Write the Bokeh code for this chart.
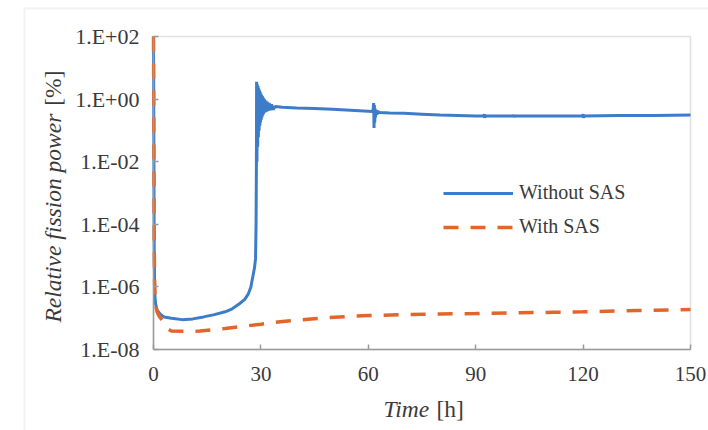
import numpy as np
from bokeh.plotting import figure
from bokeh.models import (Range1d, FixedTicker, CustomJSTickFormatter, Legend,
                          LegendItem, Label, BoxAnnotation, ColumnDataSource)
from bokeh.embed import file_html
from bokeh.resources import INLINE

# ---------------- data ----------------
time_without = [0, 0.05, 0.1, 0.15, 0.2, 0.3, 0.4, 0.6, 1.0, 2.0, 3.0, 5.0, 8.0,
                11.0, 14.0, 17.0, 20.0, 22.0, 24.0, 25.5, 26.5, 27.2, 27.7, 28.2,
                28.5, 28.65, 28.75,
                28.8, 28.9, 29.0, 29.1, 29.2, 29.3, 29.4, 29.5, 29.6, 29.7, 29.8,
                29.9, 30.0, 30.1, 30.2, 30.3, 30.4, 30.5, 30.6, 30.7, 30.8, 30.9,
                31.0, 31.2, 31.4, 31.6, 31.8, 32.0, 32.3, 32.6, 33.0, 33.4,
                34.0, 36.0, 40.0, 45.0, 50.0, 55.0, 60.0, 61.3, 61.5, 61.6, 61.7,
                61.8, 61.9, 62.0, 62.2, 62.4, 62.7, 63.2, 66.0, 70.0, 75.0, 80.0,
                85.0, 90.0, 92.3, 92.4, 92.5, 92.6, 100.5, 100.6, 100.7, 100.8,
                110.0, 119.9, 120.0, 120.1, 120.2, 130.0, 140.0, 150.0]
power_without = [100, 5, 0.05, 5e-4, 2e-5, 1.5e-6, 5e-7, 2.8e-7, 1.8e-7, 1.3e-7,
                 1.1e-7, 1.0e-7, 9e-8, 9.5e-8, 1.1e-7, 1.3e-7, 1.6e-7, 2.0e-7,
                 2.9e-7, 4e-7, 6e-7, 1e-6, 2e-6, 4e-6, 8e-6, 1e-4, 0.01,
                 3.6, 0.01, 3.0, 0.03, 2.6, 0.06, 2.2, 0.1, 1.9, 0.14, 1.7,
                 0.18, 1.5, 0.22, 1.35, 0.26, 1.25, 0.3, 1.15, 0.33, 1.05, 0.36,
                 0.98, 0.38, 0.9, 0.4, 0.82, 0.42, 0.75, 0.44, 0.68, 0.46,
                 0.58, 0.55, 0.52, 0.5, 0.47, 0.44, 0.41, 0.40, 0.75, 0.12, 0.65,
                 0.18, 0.5, 0.26, 0.45, 0.32, 0.4, 0.37, 0.36, 0.35, 0.33, 0.31,
                 0.30, 0.29, 0.29, 0.33, 0.25, 0.29, 0.29, 0.32, 0.26, 0.29,
                 0.29, 0.29, 0.33, 0.25, 0.29, 0.30, 0.30, 0.31]

time_with = [0, 0.05, 0.1, 0.15, 0.2, 0.3, 0.4, 0.6, 1.0, 1.5, 2.0, 2.5, 3.0, 3.5,
             4.0, 5.0, 8.0, 10.0, 13.0, 16.0, 20.0, 25.0, 30.0, 36.0, 40.0, 44.0,
             48.0, 55.0, 60.0, 70.0, 80.0, 90.0, 100.0, 112.0, 120.0, 135.0, 150.0]
power_with = [100, 5, 0.05, 5e-4, 2e-5, 1.5e-6, 5e-7, 2.6e-7, 1.6e-7, 1.2e-7,
              1.0e-7, 8.5e-8, 7e-8, 5.5e-8, 4.5e-8, 3.9e-8, 3.8e-8, 3.8e-8,
              3.9e-8, 4.2e-8, 4.7e-8, 5.5e-8, 6.4e-8, 7.9e-8, 8.6e-8, 9.5e-8,
              1.03e-7, 1.15e-7, 1.22e-7, 1.3e-7, 1.36e-7, 1.41e-7, 1.47e-7,
              1.55e-7, 1.6e-7, 1.75e-7, 1.9e-7]

x_ticks = [0, 30, 60, 90, 120, 150]
y_ticks = [1e-8, 1e-6, 1e-4, 1e-2, 1e0, 1e2]
y_tick_labels = ["1.E-08", "1.E-06", "1.E-04", "1.E-02", "1.E+00", "1.E+02"]

series_names = ["Without SAS", "With SAS"]
x_title = ["Time", "[h]"]
y_title = ["Relative fission power", "[%]"]

# ---------------- geometry / styles ----------------
W, H = 708, 430
AREA_L, AREA_R, AREA_T, AREA_B = 153, 690, 36, 349   # plot area in pixels
X0, X1 = x_ticks[0], x_ticks[-1]
LY0, LY1 = np.log10(y_ticks[0]), np.log10(y_ticks[-1])
pxh = (AREA_R - AREA_L) / (X1 - X0)          # pixels per hour
pxd = (AREA_B - AREA_T) / (LY1 - LY0)        # pixels per decade


def cx(px):   # canvas x pixel -> data x (for text / frame placement)
    return X0 + (px - AREA_L) / pxh


def cy(py):   # canvas y pixel -> data y (log axis)
    return 10 ** (LY0 + (AREA_B - py) / pxd)


BLUE = "#3d7cc9"
ORANGE = "#e2662a"
TEXT = "#3a3a3a"
AXIS = "#9a9a9a"
FONT = "Liberation Serif"

p = figure(width=W, height=H, x_range=Range1d(cx(0), cx(W)),
           y_range=Range1d(cy(H), cy(0)), y_axis_type="log",
           output_backend="svg", toolbar_location=None,
           min_border_left=0, min_border_right=0,
           min_border_top=0, min_border_bottom=0)
p.title.text = ""
p.grid.visible = False
p.outline_line_color = None
p.background_fill_color = "white"
p.border_fill_color = "white"

# outer light frame of the figure image
p.add_layout(BoxAnnotation(left=cx(24), right=cx(W + 50), top=cy(8), bottom=cy(H + 50),
                           fill_alpha=0, line_color="#d6d6d6", line_width=2,
                           level="underlay"))
# plot-area border
p.add_layout(BoxAnnotation(left=X0, right=X1, bottom=y_ticks[0], top=y_ticks[-1],
                           fill_alpha=0, line_color=AXIS, line_width=1.5,
                           level="underlay"))

src_wo = ColumnDataSource(dict(t=time_without, v=power_without))
src_w = ColumnDataSource(dict(t=time_with, v=power_with))
r1 = p.line("t", "v", source=src_wo, line_color=BLUE, line_width=3)
r2 = p.line("t", "v", source=src_w, line_color=ORANGE, line_width=3.5,
            line_dash="15 12")

for ax in (p.xaxis[0], p.yaxis[0]):
    ax.axis_line_color = AXIS
    ax.axis_line_width = 1.5
    ax.major_tick_line_color = AXIS
    ax.major_tick_line_width = 1.5
    ax.major_tick_in = 5
    ax.major_tick_out = 0
    ax.minor_tick_line_color = None
    ax.major_label_text_font = FONT
    ax.major_label_text_color = TEXT
    ax.axis_label = None

p.xaxis.fixed_location = y_ticks[0]
p.xaxis.bounds = (X0, X1)
p.xaxis.ticker = FixedTicker(ticks=x_ticks)
p.xaxis.major_label_standoff = 17
p.xaxis.major_label_text_font_size = "21px"

p.yaxis.fixed_location = X0
p.yaxis.bounds = (y_ticks[0], y_ticks[-1])
p.yaxis.ticker = FixedTicker(ticks=y_ticks)
p.yaxis.major_label_standoff = 14
p.yaxis.major_label_text_font_size = "22px"
p.yaxis.formatter = CustomJSTickFormatter(
    args=dict(vals=y_ticks, labs=y_tick_labels),
    code="""
    for (let i = 0; i < vals.length; i++) {
        if (Math.abs(Math.log10(tick) - Math.log10(vals[i])) < 1e-6) return labs[i];
    }
    return "";
    """)

# axis titles (italic part + upright unit)
common = dict(text_font=FONT, text_font_size="23.5px", text_color=TEXT,
              text_baseline="middle")
p.add_layout(Label(x=cx(383), y=cy(408), text=x_title[0], text_font_style="italic",
                   text_align="left", **common))
p.add_layout(Label(x=cx(436), y=cy(408), text=x_title[1], text_align="left", **common))
p.add_layout(Label(x=cx(52), y=cy(322), text=y_title[0], angle=np.pi / 2,
                   text_font_style="italic", text_align="left", **common))
p.add_layout(Label(x=cx(52), y=cy(70), text=y_title[1], angle=np.pi / 2,
                   text_align="right", **common))

legend = Legend(items=[LegendItem(label=series_names[0], renderers=[r1]),
                       LegendItem(label=series_names[1], renderers=[r2])],
                location=(443, H - 238.5), glyph_width=70, glyph_height=24,
                label_height=24, label_standoff=6, spacing=10, padding=0,
                margin=0, border_line_color=None, background_fill_alpha=0,
                label_text_font=FONT, label_text_font_size="20px",
                label_text_color=TEXT)
p.add_layout(legend)

open("out.html", "w").write(file_html(p, INLINE))
